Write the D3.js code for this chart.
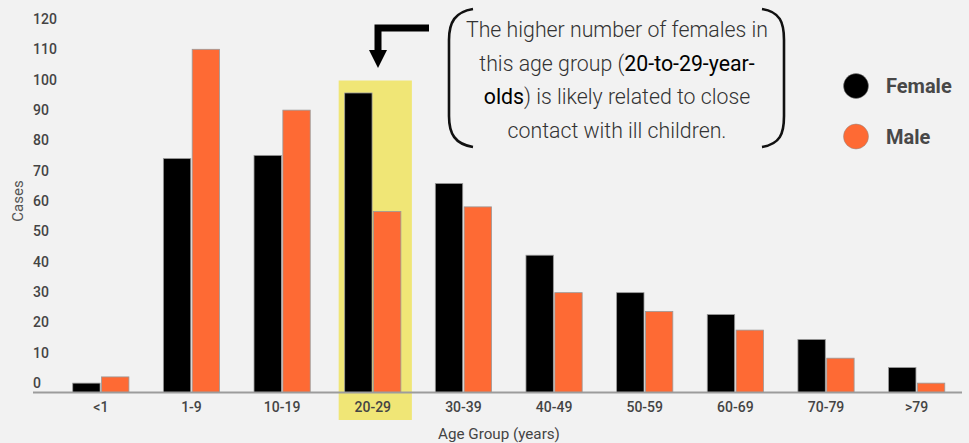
<!DOCTYPE html>
<html><head><meta charset="utf-8">
<script src="https://cdn.jsdelivr.net/npm/d3@7"></script>
<style>
html,body{margin:0;padding:0;background:#f2f2f2;}
svg{display:block;font-family:Roboto,"Noto Sans",sans-serif;}
</style></head>
<body>
<svg id="c" width="969" height="443"></svg>
<script>
const categories = ["<1","1-9","10-19","20-29","30-39","40-49","50-59","60-69","70-79",">79"];
const female = [3,75,76,96,67,44,32,25,17,8];
const male   = [5,110,90.5,58,59.5,32,26,20,11,3];
const yTicks = [0,10,20,30,40,50,60,70,80,90,100,110,120];
const seriesNames = ["Female","Male"];
const seriesColors = ["#000000","#fe6a34"];
const highlightCategory = "20-29";

const svg = d3.select("#c");
const W = 969, H = 443;
svg.append("rect").attr("width",W).attr("height",H).attr("fill","#f2f2f2");

const x0 = d3.scaleBand().domain(categories).range([55.5,962]).paddingInner(0.38).paddingOuter(0.19);
const x1 = d3.scaleBand().domain(seriesNames).range([0,x0.bandwidth()]).paddingInner(0.05);
const y = d3.scaleLinear().domain([0,110]).range([392.5,49.3]);
const yLab = d3.scaleLinear().domain([0,120]).range([383,19]);

// highlight
svg.append("rect")
  .attr("x", x0(highlightCategory)-6)
  .attr("y", y(100))
  .attr("width", x0.bandwidth()+17)
  .attr("height", 420 - y(100))
  .attr("fill","#f0e676");

// bars
const data = categories.map((c,i)=>({cat:c, vals:[female[i],male[i]]}));
const g = svg.append("g");
const grp = g.selectAll("g").data(data).join("g").attr("transform",d=>`translate(${x0(d.cat)},0)`);
grp.selectAll("rect").data(d=>d.vals.map((v,j)=>({v,j})))
  .join("rect")
  .attr("x",d=>x1(seriesNames[d.j]))
  .attr("width",x1.bandwidth())
  .attr("y",d=>y(d.v))
  .attr("height",d=>y(0)-y(d.v))
  .attr("fill",d=>seriesColors[d.j])
  .attr("stroke","#9a9a9a").attr("stroke-width",0.8);

// axis line
svg.append("line").attr("x1",33).attr("x2",962).attr("y1",y(0)).attr("y2",y(0))
  .attr("stroke","#9c9c9c").attr("stroke-width",2);

// y labels
svg.append("g").selectAll("text").data(yTicks).join("text")
  .attr("x",33).attr("y",d=>yLab(d)).attr("dy","0.35em")
  .attr("font-size",14).attr("font-weight",500).attr("fill","#444")
  .text(d=>d);

// x labels
svg.append("g").selectAll("text").data(categories).join("text")
  .attr("x",d=>x0(d)+x0.bandwidth()/2).attr("y",407).attr("dy","0.35em")
  .attr("text-anchor","middle").attr("font-size",14).attr("font-weight",500).attr("fill","#444")
  .text(d=>d);

// axis titles
svg.append("text").attr("x",499).attr("y",434).attr("dy","0.35em").attr("text-anchor","middle")
  .attr("font-size",15.2).attr("fill","#444").text("Age Group (years)");
svg.append("text").attr("transform","translate(18,201) rotate(-90)").attr("dy","0.35em")
  .attr("text-anchor","middle").attr("font-size",15).attr("fill","#555").text("Cases");

// legend
const leg = svg.append("g").selectAll("g").data(seriesNames).join("g")
  .attr("transform",(d,i)=>`translate(856,${86+i*50.5})`);
leg.append("circle").attr("r",12.5).attr("fill",(d,i)=>seriesColors[i]).attr("stroke","#888").attr("stroke-width",0.5);
leg.append("text").attr("x",30).attr("dy","0.35em").attr("font-size",20).attr("font-weight",700)
  .attr("fill","#484848").text(d=>d);

// annotation brackets
const ann = svg.append("g").attr("fill","none").attr("stroke","#111").attr("stroke-width",2.6);
ann.append("path").attr("d","M473,9 C455,12 449,22 449,40 L449,116 C449,134 455,144 473,147");
ann.append("path").attr("d","M762,9 C780,12 784,22 784,40 L784,116 C784,134 780,144 762,147");

const lines = [
  [["The higher number of females in",false]],
  [["this age group (",false],["20-to-29-year-",true]],
  [["olds",true],[") is likely related to close",false]],
  [["contact with ill children.",false]]
];
const tg = svg.append("g");
lines.forEach((ln,i)=>{
  const t = tg.append("text").attr("x",617).attr("y",30+i*33.4).attr("dy","0.35em")
    .attr("text-anchor","middle").attr("font-size",21.3).attr("fill","#333").attr("font-weight",300);
  ln.forEach(([s,b])=>{
    t.append("tspan").attr("font-weight",b?400:300).attr("fill",b?"#000":"#333").text(s);
  });
});

// arrow
svg.append("path").attr("d","M429,28 L378,28 L378,52").attr("fill","none").attr("stroke","#000").attr("stroke-width",7);
svg.append("path").attr("d","M369,50 L387,50 L378,68 Z").attr("fill","#000");
</script>
</body></html>
